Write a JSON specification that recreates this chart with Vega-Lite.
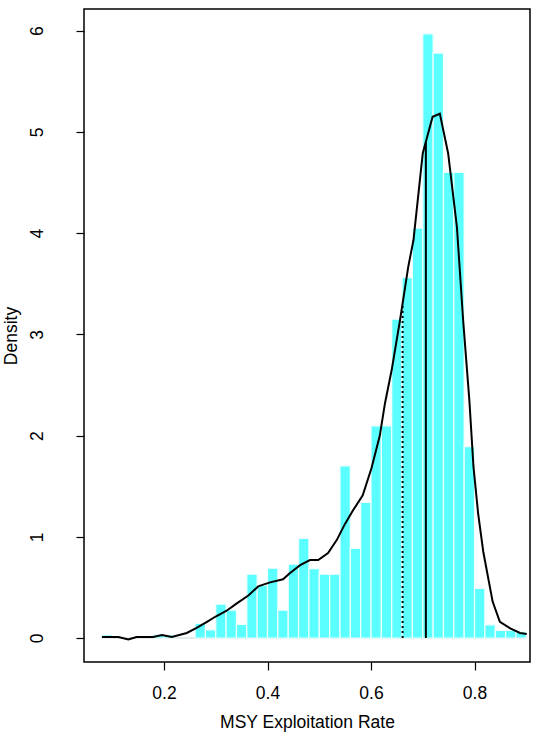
{
  "$schema": "https://vega.github.io/schema/vega-lite/v6.json",
  "autosize": {"type": "none"},
  "width": 446,
  "height": 653,
  "padding": {"left": 84, "top": 9, "right": 10, "bottom": 78},
  "config": {
    "view": {"stroke": "black", "strokeWidth": 1.5},
    "font": "Liberation Sans",
    "axis": {"domain": false, "grid": false, "tickColor": "black", "tickSize": 8, "tickWidth": 1.2, "labelColor": "black", "titleColor": "black", "labelFontSize": 17.5, "titleFontSize": 17.5, "titleFontWeight": "normal", "labelFont": "Liberation Sans", "titleFont": "Liberation Sans"}
  },
  "datasets": {
    "bins": [
      {"b0": 0.08, "b1": 0.10, "d": 0.03},
      {"b0": 0.18, "b1": 0.20, "d": 0.035},
      {"b0": 0.20, "b1": 0.22, "d": 0.03},
      {"b0": 0.26, "b1": 0.28, "d": 0.145},
      {"b0": 0.28, "b1": 0.30, "d": 0.08},
      {"b0": 0.30, "b1": 0.32, "d": 0.335},
      {"b0": 0.32, "b1": 0.34, "d": 0.275},
      {"b0": 0.34, "b1": 0.36, "d": 0.135},
      {"b0": 0.36, "b1": 0.38, "d": 0.63},
      {"b0": 0.38, "b1": 0.40, "d": 0.52},
      {"b0": 0.40, "b1": 0.42, "d": 0.69},
      {"b0": 0.42, "b1": 0.44, "d": 0.275},
      {"b0": 0.44, "b1": 0.46, "d": 0.73},
      {"b0": 0.46, "b1": 0.48, "d": 0.985},
      {"b0": 0.48, "b1": 0.50, "d": 0.685},
      {"b0": 0.50, "b1": 0.52, "d": 0.63},
      {"b0": 0.52, "b1": 0.54, "d": 0.63},
      {"b0": 0.54, "b1": 0.56, "d": 1.70},
      {"b0": 0.56, "b1": 0.58, "d": 0.885},
      {"b0": 0.58, "b1": 0.60, "d": 1.34},
      {"b0": 0.60, "b1": 0.62, "d": 2.095},
      {"b0": 0.62, "b1": 0.64, "d": 2.095},
      {"b0": 0.64, "b1": 0.66, "d": 3.15},
      {"b0": 0.66, "b1": 0.68, "d": 3.56},
      {"b0": 0.68, "b1": 0.70, "d": 4.05},
      {"b0": 0.70, "b1": 0.72, "d": 5.97},
      {"b0": 0.72, "b1": 0.74, "d": 5.78},
      {"b0": 0.74, "b1": 0.76, "d": 4.60},
      {"b0": 0.76, "b1": 0.78, "d": 4.60},
      {"b0": 0.78, "b1": 0.80, "d": 1.89},
      {"b0": 0.80, "b1": 0.82, "d": 0.49},
      {"b0": 0.82, "b1": 0.84, "d": 0.13},
      {"b0": 0.84, "b1": 0.86, "d": 0.075},
      {"b0": 0.86, "b1": 0.88, "d": 0.075},
      {"b0": 0.88, "b1": 0.90, "d": 0.06}
    ],
    "dens": [
      {"x": 0.080, "y": 0.01},
      {"x": 0.100, "y": 0.01},
      {"x": 0.112, "y": 0.01},
      {"x": 0.131, "y": -0.015},
      {"x": 0.147, "y": 0.01},
      {"x": 0.179, "y": 0.01},
      {"x": 0.196, "y": 0.03},
      {"x": 0.215, "y": 0.01},
      {"x": 0.244, "y": 0.05},
      {"x": 0.263, "y": 0.10},
      {"x": 0.283, "y": 0.16},
      {"x": 0.299, "y": 0.21},
      {"x": 0.321, "y": 0.27},
      {"x": 0.340, "y": 0.34},
      {"x": 0.363, "y": 0.42},
      {"x": 0.382, "y": 0.51},
      {"x": 0.405, "y": 0.55},
      {"x": 0.430, "y": 0.58},
      {"x": 0.443, "y": 0.64},
      {"x": 0.463, "y": 0.72},
      {"x": 0.482, "y": 0.77},
      {"x": 0.498, "y": 0.77},
      {"x": 0.517, "y": 0.84},
      {"x": 0.534, "y": 0.97},
      {"x": 0.550, "y": 1.13},
      {"x": 0.565, "y": 1.26},
      {"x": 0.584, "y": 1.41},
      {"x": 0.601, "y": 1.68},
      {"x": 0.617, "y": 2.0},
      {"x": 0.627, "y": 2.32},
      {"x": 0.640, "y": 2.65},
      {"x": 0.656, "y": 3.14},
      {"x": 0.672, "y": 3.67},
      {"x": 0.682, "y": 3.93},
      {"x": 0.700, "y": 4.79},
      {"x": 0.719, "y": 5.15},
      {"x": 0.733, "y": 5.18},
      {"x": 0.749, "y": 4.79},
      {"x": 0.766, "y": 4.06},
      {"x": 0.778, "y": 3.14},
      {"x": 0.790, "y": 2.35},
      {"x": 0.798, "y": 1.69},
      {"x": 0.807, "y": 1.23},
      {"x": 0.817, "y": 0.85},
      {"x": 0.835, "y": 0.36},
      {"x": 0.849, "y": 0.16},
      {"x": 0.869, "y": 0.095},
      {"x": 0.888, "y": 0.05},
      {"x": 0.901, "y": 0.04}
    ],
    "dotted": [{"x": 0.661, "y0": 0, "y1": 3.31}],
    "solid": [{"x": 0.706, "y0": 0, "y1": 4.9}],
    "base": [{"x0": 0.08, "x1": 0.90, "y": 0}]
  },
  "layer": [
    {
      "data": {"name": "base"},
      "mark": {"type": "rule", "color": "#c8d8d8", "strokeWidth": 1.2},
      "encoding": {
        "x": {"field": "x0", "type": "quantitative", "scale": {"domain": [0.0454, 0.9072], "nice": false, "zero": false},
              "axis": {"values": [0.2, 0.4, 0.6, 0.8], "format": ".1f", "title": "MSY Exploitation Rate", "labelPadding": 14, "titlePadding": 12}},
        "x2": {"field": "x1"},
        "y": {"field": "y", "type": "quantitative", "scale": {"domain": [-0.237, 6.215], "nice": false, "zero": false},
              "axis": {"values": [0, 1, 2, 3, 4, 5, 6], "format": "d", "title": "Density", "labelAngle": -90, "labelAlign": "center", "labelBaseline": "bottom", "labelPadding": 30, "titlePadding": 8}}
      }
    },
    {
      "data": {"name": "bins"},
      "mark": {"type": "rect", "fill": "#5CFFFF", "stroke": "#f0ffff", "strokeWidth": 1.2},
      "encoding": {
        "x": {"field": "b0", "type": "quantitative"},
        "x2": {"field": "b1"},
        "y": {"field": "d", "type": "quantitative"},
        "y2": {"datum": 0}
      }
    },
    {
      "data": {"name": "dens"},
      "mark": {"type": "line", "color": "black", "strokeWidth": 2},
      "encoding": {
        "x": {"field": "x", "type": "quantitative"},
        "y": {"field": "y", "type": "quantitative"}
      }
    },
    {
      "data": {"name": "dotted"},
      "mark": {"type": "rule", "color": "black", "strokeWidth": 2, "strokeDash": [2, 3]},
      "encoding": {
        "x": {"field": "x", "type": "quantitative"},
        "y": {"field": "y0", "type": "quantitative"},
        "y2": {"field": "y1"}
      }
    },
    {
      "data": {"name": "solid"},
      "mark": {"type": "rule", "color": "black", "strokeWidth": 2},
      "encoding": {
        "x": {"field": "x", "type": "quantitative"},
        "y": {"field": "y0", "type": "quantitative"},
        "y2": {"field": "y1"}
      }
    }
  ]
}
